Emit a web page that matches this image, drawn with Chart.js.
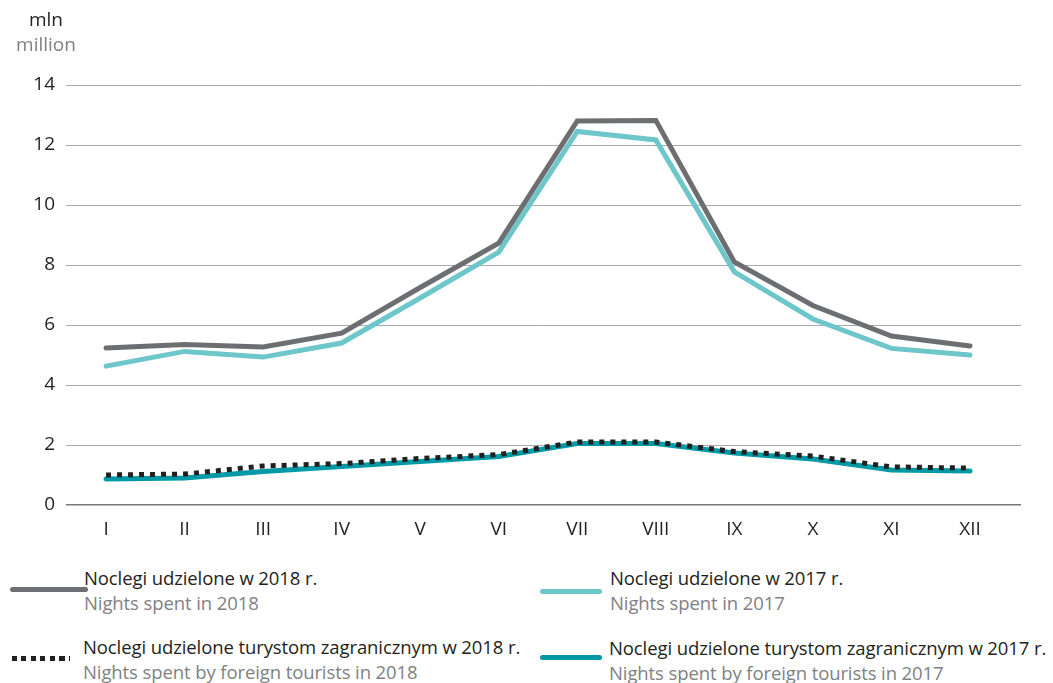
<!DOCTYPE html>
<html>
<head>
<meta charset="utf-8">
<script src="https://cdn.jsdelivr.net/npm/chart.js@4"></script>
<style>
  body { margin: 0; background: #fff; font-family: 'Open Sans', sans-serif; }
  #wrap { position: relative; width: 1053px; height: 683px; }
  #chartBox { position: absolute; left: 0; top: 0; width: 1053px; height: 545px; }
  .unit { position: absolute; width: 92px; text-align: center; font-size: 19px; }
  .sample { position: absolute; height: 5px; border-radius: 3px; }
  .txt { position: absolute; white-space: nowrap; font-size: 18.5px; line-height: 25px; letter-spacing: -0.1px; }
  .pl { color: #231f20; }
  .en { color: #808184; }
</style>
</head>
<body>
<div id="wrap">
  <div id="chartBox"><canvas id="myChart"></canvas></div>
  <div class="unit" style="left:0;top:6px;color:#231f20">mln</div>
  <div class="unit" style="left:0;top:31px;color:#808184">million</div>
  <div id="legend"></div>
</div>
<script>
const months = ['I', 'II', 'III', 'IV', 'V', 'VI', 'VII', 'VIII', 'IX', 'X', 'XI', 'XII']
const nights2018 = [5.23, 5.35, 5.27, 5.73, 7.25, 8.73, 12.8, 12.82, 8.1, 6.65, 5.63, 5.3]
const nights2017 = [4.63, 5.12, 4.93, 5.4, 6.9, 8.43, 12.45, 12.17, 7.77, 6.2, 5.22, 5.0]
const foreign2018 = [1.0, 1.03, 1.3, 1.38, 1.55, 1.68, 2.1, 2.1, 1.78, 1.63, 1.27, 1.23]
const foreign2017 = [0.87, 0.9, 1.12, 1.28, 1.45, 1.62, 2.05, 2.05, 1.73, 1.53, 1.17, 1.13]
const yTicks = [0, 2, 4, 6, 8, 10, 12, 14]

const labelsPl = [
  'Noclegi udzielone w 2018 r.',
  'Noclegi udzielone w 2017 r.',
  'Noclegi udzielone turystom zagranicznym w 2018 r.',
  'Noclegi udzielone turystom zagranicznym w 2017 r.'
]
const labelsEn = [
  'Nights spent in 2018',
  'Nights spent in 2017',
  'Nights spent by foreign tourists in 2018',
  'Nights spent by foreign tourists in 2017'
]
const colors = ['#6d6e71', '#6cc6ca', '#231f20', '#0099a6']

// month index on a linear x scale, so the plot can run past the last month like the original
const toPoints = (arr) => arr.map((v, i) => ({ x: i, y: v }))

const datasets = [
  { label: labelsPl[0], data: toPoints(nights2018), borderColor: colors[0], borderWidth: 5, borderCapStyle: 'round' },
  { label: labelsPl[1], data: toPoints(nights2017), borderColor: colors[1], borderWidth: 5, borderCapStyle: 'round' },
  { label: labelsPl[2], data: toPoints(foreign2018), borderColor: colors[2], borderWidth: 5, borderDash: [5, 6], borderCapStyle: 'butt' },
  { label: labelsPl[3], data: toPoints(foreign2017), borderColor: colors[3], borderWidth: 5, borderCapStyle: 'round' }
].map((d) => ({ ...d, pointRadius: 0, tension: 0, fill: false, borderJoinStyle: 'miter' }))

const config = {
  type: 'line',
  data: { datasets: datasets },
  options: {
    responsive: true,
    maintainAspectRatio: false,
    animation: false,
    layout: { padding: { top: 85, right: 32, left: 0, bottom: 0 } },
    scales: {
      x: {
        type: 'linear',
        min: -0.51,
        max: 11.65,
        afterBuildTicks: (s) => { s.ticks = months.map((m, i) => ({ value: i })) },
        grid: { display: false },
        border: { display: false },
        ticks: {
          color: '#231f20',
          padding: 5,
          autoSkip: false,
          maxRotation: 0,
          font: { family: 'Open Sans', size: 19 },
          callback: (v) => months[v]
        },
        afterFit: (s) => { s.height = 40 }
      },
      y: {
        min: 0,
        max: 14,
        afterBuildTicks: (s) => { s.ticks = yTicks.map((v) => ({ value: v })) },
        grid: {
          drawTicks: false,
          color: (c) => c.tick && c.tick.value === 0 ? '#77787b' : '#a7a9ac',
          lineWidth: (c) => c.tick && c.tick.value === 0 ? 1.5 : 1
        },
        border: { display: false },
        ticks: { color: '#231f20', padding: 11, font: { family: 'Open Sans', size: 19 } },
        afterFit: (s) => { s.width = 66 }
      }
    },
    plugins: {
      legend: { display: false },
      tooltip: { enabled: false }
    }
  }
}

const myChart = new Chart(document.getElementById('myChart'), config)

// legend below the chart, two columns
const slots = [
  { lx: 10, lw: 78, ly: 587, tx: 84, ty: 565 },
  { lx: 540, lw: 62, ly: 589, tx: 610, ty: 565 },
  { lx: 12, lw: 58, ly: 656, tx: 83, ty: 634 },
  { lx: 540, lw: 62, ly: 655, tx: 609, ty: 635 }
]
const legendBox = document.getElementById('legend')
slots.forEach((p, i) => {
  const sample = document.createElement('div')
  sample.className = 'sample'
  sample.style.left = p.lx + 'px'
  sample.style.top = p.ly + 'px'
  sample.style.width = p.lw + 'px'
  if (i === 2) {
    sample.style.borderRadius = '0'
    sample.style.background = `repeating-linear-gradient(to right, ${colors[i]} 0 5px, transparent 5px 9.5px)`
  } else {
    sample.style.background = colors[i]
  }
  const txt = document.createElement('div')
  txt.className = 'txt'
  txt.style.left = p.tx + 'px'
  txt.style.top = p.ty + 'px'
  txt.innerHTML = `<div class="pl">${labelsPl[i]}</div><div class="en">${labelsEn[i]}</div>`
  legendBox.append(sample, txt)
})
</script>
</body>
</html>
